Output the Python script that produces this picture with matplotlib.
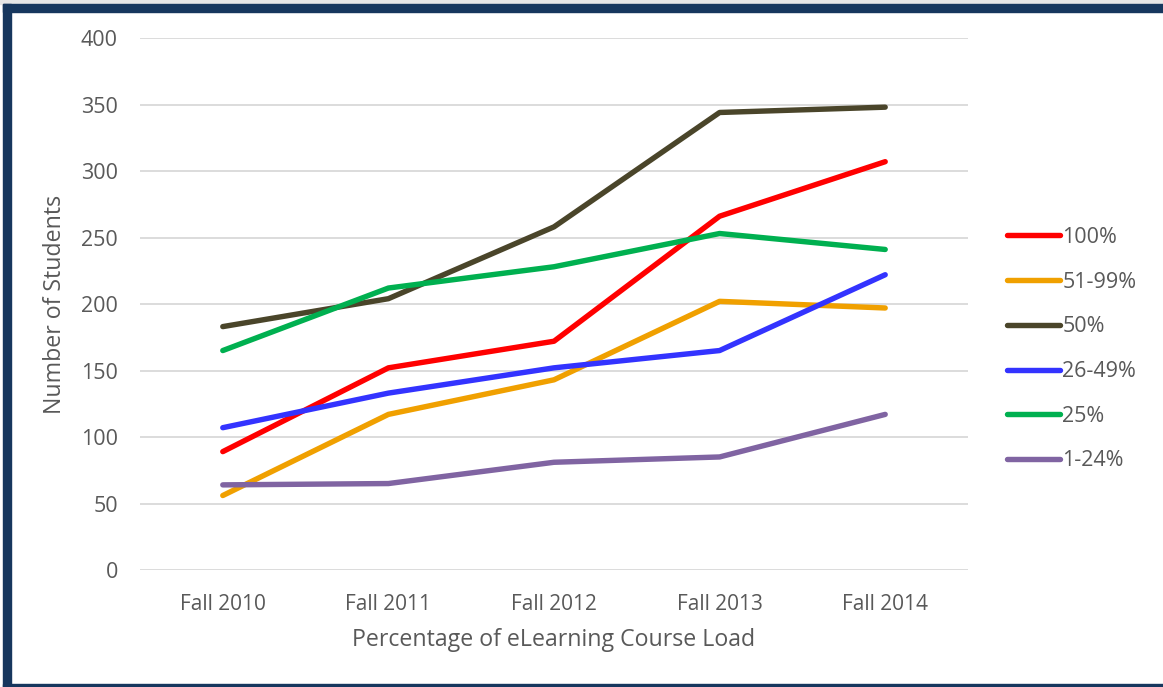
import matplotlib
matplotlib.use("Agg")
import matplotlib.pyplot as plt
from matplotlib.patches import Rectangle

categories = ["Fall 2010", "Fall 2011", "Fall 2012", "Fall 2013", "Fall 2014"]
series_names = ["100%", "51-99%", "50%", "26-49%", "25%", "1-24%"]
s100 = [89, 152, 172, 266, 307]
s51_99 = [56, 117, 143, 202, 197]
s50 = [183, 204, 258, 344, 348]
s26_49 = [107, 133, 152, 165, 222]
s25 = [165, 212, 228, 253, 241]
s1_24 = [64, 65, 81, 85, 117]
series_values = [s100, s51_99, s50, s26_49, s25, s1_24]
colors = ["#FF0000", "#F0A000", "#4A452A", "#3333FF", "#00B050", "#8064A2"]
yticks = [0, 50, 100, 150, 200, 250, 300, 350, 400]

plt.rcParams['font.family'] = ['Open Sans', 'DejaVu Sans']
W, H = 1163, 687
fig = plt.figure(figsize=(W / 100, H / 100), dpi=100)
ax = fig.add_axes([140 / W, 1 - 570 / H, (968 - 140) / W, (570 - 38) / H])

x = list(range(len(categories)))
for name, vals, c in zip(series_names, series_values, colors):
    ax.plot(x, vals, color=c, lw=3.9, solid_capstyle='round', solid_joinstyle='round', label=name)

ax.set_xlim(-0.5, 4.5)
ax.set_ylim(0, 400)
ax.set_yticks(yticks)
ax.set_xticks(x)
ax.set_xticklabels(categories)
ax.grid(axis='y', color='#D9D9D9', lw=1.3)
ax.set_axisbelow(True)
for sp in ax.spines.values():
    sp.set_visible(False)
ax.tick_params(length=0, colors='#595959', labelsize=15)
ax.tick_params(axis='y', labelsize=15.5, pad=16)
ax.tick_params(axis='x', pad=17)
ax.set_ylabel("Number of Students", fontsize=16.7, color='#595959', labelpad=10)
ax.set_xlabel("Percentage of eLearning Course Load", fontsize=16.7, color='#595959', labelpad=10)

leg = ax.legend(loc='upper left', bbox_to_anchor=(1007 / W, 1 - 227 / H), bbox_transform=fig.transFigure,
                frameon=False, fontsize=15.5, labelcolor='#595959', handlelength=2.45, handletextpad=0.12,
                labelspacing=1.1, borderaxespad=0, borderpad=0)

# border
fig.patches.append(Rectangle((0, 1 - 4 / H), 1, 4 / H, transform=fig.transFigure, color='#E6E6E6', zorder=0))
fig.patches.append(Rectangle((3 / W, 1 - 12 / H), 1, 8 / H, transform=fig.transFigure, color='#17375E', zorder=5))
fig.patches.append(Rectangle((3 / W, 0), 8 / W, 1 - 4 / H, transform=fig.transFigure, color='#17375E', zorder=5))
fig.patches.append(Rectangle((3 / W, 0), 1, 3 / H, transform=fig.transFigure, color='#17375E', zorder=5))

fig.savefig("out.png", dpi=100)
